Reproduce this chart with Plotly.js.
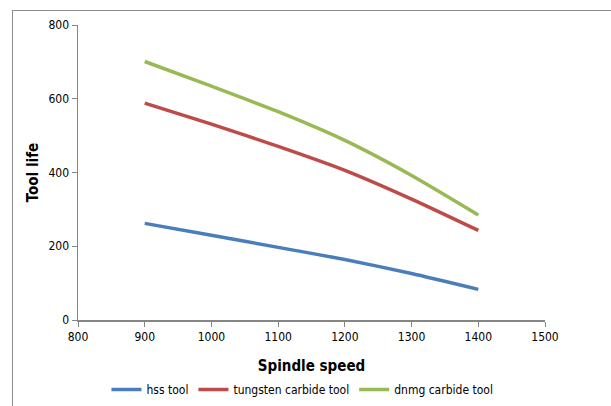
<!DOCTYPE html>
<html>
<head>
<meta charset="utf-8">
<script src="https://cdn.plot.ly/plotly-3.0.1.min.js"></script>
<style>
html,body{margin:0;padding:0;background:#fff;}
#frame{position:absolute;left:12px;top:10px;width:640px;height:420px;border:1px solid #8c8c8c;box-sizing:border-box;pointer-events:none;z-index:5;}
#chart{position:absolute;left:0;top:0;width:611px;height:406px;}
</style>
</head>
<body>
<div id="chart"></div>
<div id="frame"></div>
<script>
const speeds = [900, 1000, 1100, 1200, 1300, 1400];
const hssTool = [262, 230, 197, 164, 126, 83];
const tungstenCarbide = [588, 531, 471, 406, 328, 243];
const dnmgCarbide = [701, 634, 565, 487, 392, 285];
const seriesNames = ["hss tool", "tungsten carbide tool", "dnmg carbide tool"];
const xTicks = [800, 900, 1000, 1100, 1200, 1300, 1400, 1500];
const yTicks = [0, 200, 400, 600, 800];

const colors = ["#4A7EBB", "#BE4B48", "#98B954"];
const font = "'DejaVu Sans Condensed', 'Liberation Sans Narrow', 'Liberation Sans', Arial, sans-serif";
const data = [hssTool, tungstenCarbide, dnmgCarbide].map((ys, i) => ({
  x: speeds, y: ys, name: seriesNames[i], type: 'scatter', mode: 'lines',
  line: {color: colors[i], width: 3.5, shape: 'spline', smoothing: 0.6}
}));
const layout = {
  width: 611, height: 406,
  margin: {l: 78, r: 66, t: 25, b: 86, autoexpand: false},
  paper_bgcolor: '#fff', plot_bgcolor: '#fff',
  showlegend: true,
  legend: {orientation: 'h', xref: 'container', yref: 'container', x: 0.495, xanchor: 'center', y: 0.005, yanchor: 'bottom',
    font: {family: font, size: 12, color: '#000'}, tracegroupgap: 0},
  xaxis: {range: [800, 1500], tickvals: xTicks, ticktext: xTicks.map(String), automargin: true,
    showgrid: false, zeroline: false, showline: true, linecolor: '#868686', linewidth: 1.5,
    ticks: 'outside', ticklen: 5, tickcolor: '#868686',
    tickfont: {family: font, size: 12, color: '#000'},
    title: {text: '<b>Spindle speed</b>', font: {family: font, size: 15, color: '#000'}, standoff: 19}},
  yaxis: {range: [0, 800], tickvals: yTicks, ticktext: yTicks.map(String), automargin: true,
    showgrid: false, zeroline: false, showline: true, linecolor: '#868686', linewidth: 1.5,
    ticks: 'outside', ticklen: 5, tickcolor: '#868686',
    tickfont: {family: font, size: 12, color: '#000'},
    title: {text: '<b>Tool life</b>', font: {family: font, size: 15, color: '#000'}, standoff: 6}}
};
Plotly.newPlot('chart', data, layout, {displayModeBar: false, staticPlot: true});
</script>
</body>
</html>
